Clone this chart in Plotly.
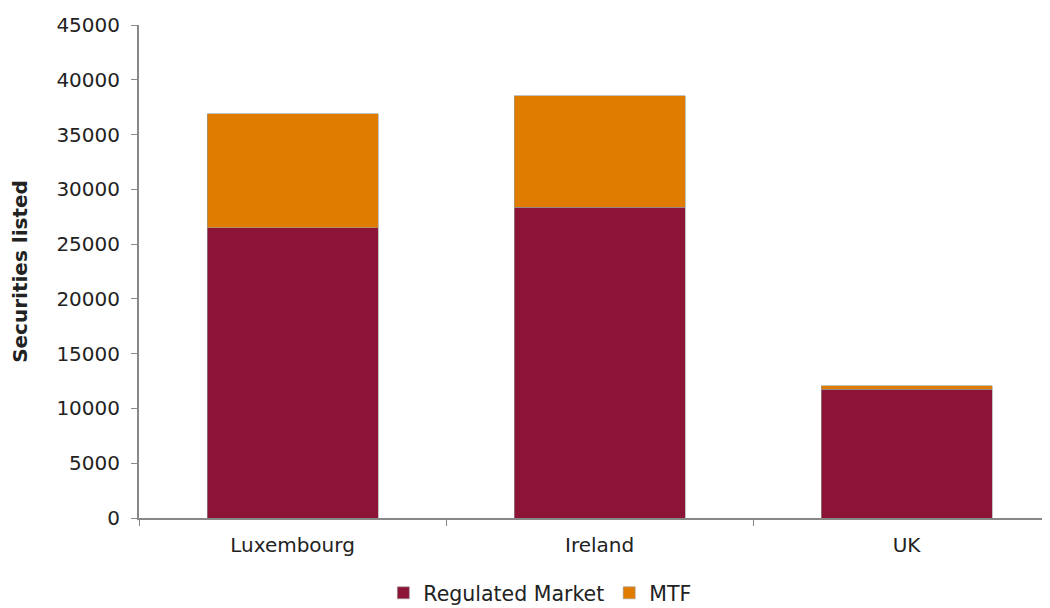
import plotly.graph_objects as go

categories = ["Luxembourg", "Ireland", "UK"]
regulated_market = [26500, 28350, 11750]
mtf = [10400, 10200, 320]
y_ticks = [0, 5000, 10000, 15000, 20000, 25000, 30000, 35000, 40000, 45000]

font_family = "DejaVu Sans, Verdana, sans-serif"

fig = go.Figure()
fig.add_trace(go.Bar(
    x=categories, y=regulated_market, name="Regulated Market",
    marker=dict(color="#8C1537", line=dict(color="#9a9a9a", width=0.6)),
    width=0.557,
))
fig.add_trace(go.Bar(
    x=categories, y=mtf, name="MTF",
    marker=dict(color="#E07D00", line=dict(color="#9a9a9a", width=0.6)),
    width=0.557,
))

fig.update_layout(
    barmode="stack",
    width=1042, height=600,
    margin=dict(l=131, r=0, t=17, b=90),
    plot_bgcolor="white", paper_bgcolor="white",
    font=dict(family=font_family, size=20, color="#222"),
    showlegend=True,
    legend=dict(orientation="h", x=0.44, xanchor="center",
                yref="container", y=0.025, yanchor="middle",
                font=dict(size=20.5), traceorder="normal", itemwidth=30),
    xaxis=dict(
        type="category", range=[-0.5, 2.467], automargin=False,
        showline=True, linecolor="#888", linewidth=2,
        ticks="outside", tickson="boundaries", ticklen=6, tickcolor="#888",
        tickfont=dict(size=20), showgrid=False, ticklabelstandoff=8,
    ),
    yaxis=dict(
        range=[0, 45000], tickvals=y_ticks, tickformat="d", automargin=False,
        showline=True, linecolor="#888", linewidth=2,
        ticks="outside", ticklen=6, tickcolor="#888", ticklabelstandoff=7,
        tickfont=dict(size=20), showgrid=False, zeroline=False,
        title=dict(text="<b>Securities listed</b>", font=dict(size=20), standoff=28),
    ),
)

fig.write_html("out.html")
